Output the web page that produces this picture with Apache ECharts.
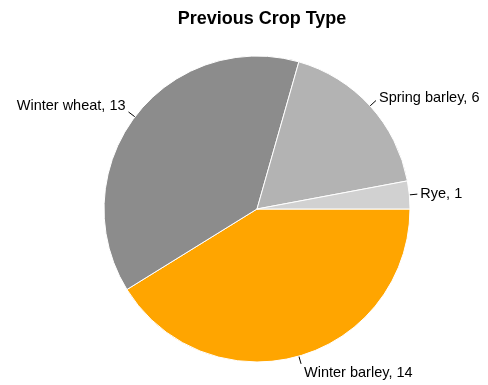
<!DOCTYPE html>
<html>
<head>
<meta charset="utf-8">
<script src="https://cdn.jsdelivr.net/npm/echarts@6/dist/echarts.min.js"></script>
<style>
  html, body { margin: 0; padding: 0; background: #fff; }
  #chart { width: 488px; height: 385px; }
</style>
</head>
<body>
<div id="chart"></div>
<script>
// Previous crop counts, drawn clockwise from 3 o'clock
const categories = ['Winter barley', 'Winter wheat', 'Spring barley', 'Rye'];
const counts = [14, 13, 6, 1];
const colors = ['#FFA500', '#8c8c8c', '#b3b3b3', '#d1d1d1'];
// nudge label text away from the pie along the vertical direction
const labelPads = [[18, 0, 0, 0], [0, 0, 12, 0], [0, 0, 6, 0], [0, 0, 0, 0]];

const chart = echarts.init(document.getElementById('chart'));

const labelFont = {
  fontFamily: 'Liberation Sans, Arial, sans-serif',
  fontSize: 14.5,
  color: '#000'
};

const data = categories.map((name, i) => ({
  name: name,
  value: counts[i],
  itemStyle: { color: colors[i] },
  label: {
    formatter: '{t|{b}, {c}}',
    rich: { t: Object.assign({ padding: labelPads[i] }, labelFont) }
  }
}));

chart.setOption({
  animation: false,
  backgroundColor: '#ffffff',
  title: {
    text: 'Previous Crop Type',
    left: 257,
    top: 5,
    textAlign: 'center',
    textStyle: {
      fontFamily: 'Liberation Sans, Arial, sans-serif',
      fontSize: 18,
      fontWeight: 'bold',
      color: '#000'
    }
  },
  series: [{
    type: 'pie',
    center: [257, 209],
    radius: 153,
    startAngle: 0,
    clockwise: true,
    avoidLabelOverlap: false,
    data: data,
    itemStyle: { borderColor: '#ffffff', borderWidth: 1 },
    label: Object.assign({
      show: true,
      position: 'outside',
      distanceToLabelLine: 3
    }, labelFont),
    labelLine: {
      show: true,
      length: 8,
      length2: 0,
      lineStyle: { color: '#000', width: 1 }
    },
    emphasis: { disabled: true }
  }]
});
</script>
</body>
</html>
